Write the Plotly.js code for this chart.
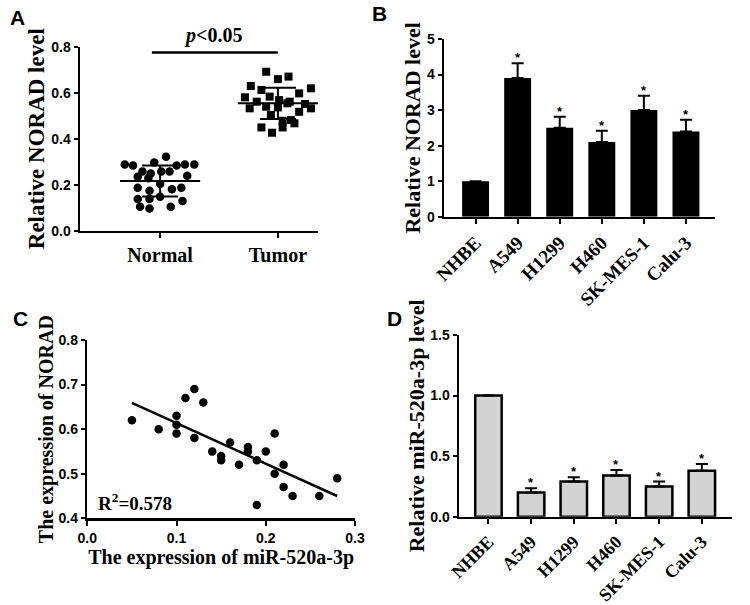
<!DOCTYPE html>
<html>
<head>
<meta charset="utf-8">
<script src="https://cdn.plot.ly/plotly-3.0.1.min.js"></script>
<style>html,body{margin:0;padding:0;background:#fff;}#chart{width:750px;height:605px;}</style>
</head>
<body>
<div id="chart"></div>
<script>
// ---------- Panel A data ----------
const groups = ['Normal', 'Tumor'];
const normalVals = [0.322,0.288,0.283,0.297,0.283,0.288,0.288,0.235,0.257,0.249,0.257,0.257,0.239,0.228,0.203,0.187,0.174,0.180,0.187,0.138,0.138,0.148,0.129,0.104,0.097,0.104];
const normalJitter = [0.05,-0.30,-0.23,-0.05,0.14,0.21,0.29,-0.19,-0.15,-0.08,0.01,0.08,0.23,-0.10,0.00,-0.19,-0.09,0.10,0.18,-0.19,-0.09,0.00,0.19,-0.17,-0.09,0.09];
const tumorVals = [0.691,0.659,0.670,0.629,0.612,0.619,0.580,0.561,0.583,0.568,0.561,0.597,0.532,0.539,0.536,0.554,0.517,0.532,0.551,0.503,0.478,0.481,0.467,0.449,0.426,0.449];
const tumorJitter = [-0.10,0.00,0.09,-0.23,-0.14,0.28,-0.28,-0.18,-0.07,0.01,0.10,0.18,-0.24,-0.10,0.00,0.08,0.18,0.28,0.23,-0.06,0.04,0.11,0.14,-0.14,-0.05,0.04];
const groupMeans = [0.216, 0.554];
const groupSD = [0.067, 0.068];

// ---------- Panel B data ----------
const cellLines = ['NHBE', 'A549', 'H1299', 'H460', 'SK-MES-1', 'Calu-3'];
const noradLevel = [1.0, 3.9, 2.5, 2.1, 3.0, 2.4];
const noradErr = [0, 0.42, 0.31, 0.32, 0.40, 0.33];
const noradSig = ['', '*', '*', '*', '*', '*'];

// ---------- Panel C data ----------
const mirExpr = [0.05,0.08,0.10,0.10,0.10,0.11,0.12,0.12,0.13,0.14,0.15,0.15,0.16,0.17,0.18,0.18,0.19,0.19,0.20,0.21,0.21,0.22,0.22,0.23,0.26,0.28];
const noradExpr = [0.62,0.60,0.63,0.61,0.59,0.67,0.69,0.58,0.66,0.55,0.54,0.53,0.57,0.52,0.56,0.55,0.53,0.43,0.55,0.59,0.50,0.52,0.47,0.45,0.45,0.49];
const fitX = [0.05, 0.28];
const fitY = [0.659, 0.450];
const r2Label = 'R<sup>2</sup>=0.578';

// ---------- Panel D data ----------
const mirLevel = [1.0, 0.20, 0.29, 0.34, 0.25, 0.38];
const mirErr = [0, 0.035, 0.035, 0.045, 0.04, 0.055];
const mirSig = ['', '*', '*', '*', '*', '*'];

// ---------- styles ----------
const W = 750, H = 605;
const serif = 'Liberation Serif, Times New Roman, serif';
const sans = 'Liberation Sans, Arial, sans-serif';
const tickFont = {family: sans, size: 14, color: '#000', weight: 'bold'};
const catFont = {family: serif, size: 20, color: '#000', weight: 'bold'};
const rotFont = {family: serif, size: 19, color: '#000', weight: 'bold'};
const rotFontD = {family: serif, size: 18, color: '#000', weight: 'bold'};
const dx = (a, b) => [a / W, b / W];
const dy = (top, bottom) => [1 - bottom / H, 1 - top / H];
const axBase = {
  showline: true, linewidth: 2.5, linecolor: '#000', ticks: 'outside', ticklen: 5,
  tickwidth: 2, tickcolor: '#000', showgrid: false, zeroline: false, fixedrange: true
};
const meanHalf = 0.34;

const traces = [];
// Panel A scatter
traces.push({
  type: 'scatter', mode: 'markers', xaxis: 'x', yaxis: 'y',
  x: normalVals.map((v, i) => 1 + normalJitter[i]), y: normalVals,
  marker: {symbol: 'circle', size: 8.5, color: '#000'}, cliponaxis: false
});
traces.push({
  type: 'scatter', mode: 'markers', xaxis: 'x', yaxis: 'y',
  x: tumorVals.map((v, i) => 2 + tumorJitter[i]), y: tumorVals,
  marker: {symbol: 'square', size: 8, color: '#000'}, cliponaxis: false
});
// mean +- SD
traces.push({
  type: 'scatter', mode: 'markers', xaxis: 'x', yaxis: 'y',
  x: [1, 2], y: groupMeans,
  marker: {size: 1, color: 'rgba(0,0,0,0)'},
  error_y: {type: 'data', array: groupSD, symmetric: true, color: '#000', thickness: 2, width: 18},
  error_x: {type: 'constant', value: meanHalf, color: '#000', thickness: 2, width: 0}
});

// Panel B bars
traces.push({
  type: 'bar', xaxis: 'x2', yaxis: 'y2', x: cellLines, y: noradLevel, width: 0.64,
  marker: {color: '#000', line: {color: '#000', width: 0}},
  error_y: {type: 'data', array: noradErr, arrayminus: noradErr.map(() => 0), symmetric: false,
            color: '#000', thickness: 2, width: 6}
});

// Panel C scatter + fit
traces.push({
  type: 'scatter', mode: 'markers', xaxis: 'x3', yaxis: 'y3', x: mirExpr, y: noradExpr,
  marker: {symbol: 'circle', size: 8.5, color: '#000'}, cliponaxis: false
});
traces.push({
  type: 'scatter', mode: 'lines', xaxis: 'x3', yaxis: 'y3', x: fitX, y: fitY,
  line: {color: '#000', width: 2.5}
});

// Panel D bars
traces.push({
  type: 'bar', xaxis: 'x4', yaxis: 'y4', x: cellLines, y: mirLevel, width: 0.62,
  marker: {color: '#d3d3d3', line: {color: '#000', width: 2.5}},
  error_y: {type: 'data', array: mirErr, arrayminus: mirErr.map(() => 0), symmetric: false,
            color: '#000', thickness: 2, width: 6}
});

const annotations = [];
const letterFont = {family: sans, size: 21, color: '#000', weight: 'bold'};
[['A', 17, 17], ['B', 379, 13], ['C', 20, 318], ['D', 395, 318]].forEach(([t, x, y]) => {
  annotations.push({xref: 'paper', yref: 'paper', x: x / W, y: 1 - y / H, text: t, showarrow: false,
                    xanchor: 'center', yanchor: 'middle', font: letterFont});
});
annotations.push({xref: 'x', yref: 'y', x: 1.45, y: 0.775, yshift: 3, text: '<i>p</i>&lt;0.05', showarrow: false,
                  yanchor: 'bottom', font: {family: serif, size: 20, color: '#000', weight: 'bold'}});
annotations.push({xref: 'x3', yref: 'y3', x: 0.01, y: 0.437, text: r2Label, showarrow: false,
                  xanchor: 'left', yanchor: 'middle', font: {family: serif, size: 19, color: '#000', weight: 'bold'}});
cellLines.forEach((c, i) => {
  if (noradSig[i]) annotations.push({xref: 'x2', yref: 'y2', x: c, y: noradLevel[i] + noradErr[i], text: noradSig[i],
    showarrow: false, yanchor: 'bottom', yshift: -4, font: {family: sans, size: 13, color: '#000', weight: 'bold'}});
  if (mirSig[i]) annotations.push({xref: 'x4', yref: 'y4', x: c, y: mirLevel[i] + mirErr[i], text: mirSig[i],
    showarrow: false, yanchor: 'bottom', yshift: -4, font: {family: sans, size: 13, color: '#000', weight: 'bold'}});
});

const layout = {
  width: W, height: H, margin: {l: 0, r: 0, t: 0, b: 0},
  paper_bgcolor: '#fff', plot_bgcolor: 'rgba(0,0,0,0)', showlegend: false,
  xaxis: Object.assign({}, axBase, {domain: dx(80, 318), range: [0.32, 2.34], tickvals: [1, 2], ticktext: groups,
    tickfont: catFont, anchor: 'y'}),
  yaxis: Object.assign({}, axBase, {domain: dy(46.7, 230.7), range: [0, 0.8], dtick: 0.2, tickformat: '.1f',
    tickfont: tickFont, anchor: 'x', ticklen: 4,
    title: {text: 'Relative NORAD level', font: {family: serif, size: 23, color: '#000', weight: 'bold'}, standoff: 0}}),
  xaxis2: Object.assign({}, axBase, {domain: dx(444, 715), type: 'category', range: [-0.75, 5.69],
    tickangle: -45, tickfont: rotFont, anchor: 'y2'}),
  yaxis2: Object.assign({}, axBase, {domain: dy(39, 216.7), range: [0, 5], dtick: 1, tickfont: tickFont, anchor: 'x2',
    ticklen: 4,
    title: {text: 'Relative NORAD level', font: {family: serif, size: 22, color: '#000', weight: 'bold'}, standoff: 0}}),
  xaxis3: Object.assign({}, axBase, {domain: dx(87.3, 355), range: [0, 0.3], dtick: 0.1, tickformat: '.1f',
    tickfont: tickFont, anchor: 'y3',
    title: {text: 'The expression of miR-520a-3p', font: {family: serif, size: 20, color: '#000', weight: 'bold'}, standoff: 0}}),
  yaxis3: Object.assign({}, axBase, {domain: dy(340, 518.3), range: [0.4, 0.8], dtick: 0.1, tickformat: '.1f',
    tickfont: tickFont, anchor: 'x3', ticklen: 4,
    title: {text: 'The expression of NORAD', font: {family: serif, size: 20, color: '#000', weight: 'bold'}, standoff: 0}}),
  xaxis4: Object.assign({}, axBase, {domain: dx(459, 731.7), type: 'category', range: [-0.69, 5.7],
    tickangle: -45, tickfont: rotFontD, anchor: 'y4'}),
  yaxis4: Object.assign({}, axBase, {domain: dy(335, 516.7), range: [0, 1.5], dtick: 0.5, tickformat: '.1f',
    tickfont: tickFont, anchor: 'x4', ticklen: 4,
    title: {text: 'Relative miR-520a-3p level', font: {family: serif, size: 22, color: '#000', weight: 'bold'}, standoff: 0}}),
  shapes: [{type: 'line', xref: 'x', yref: 'y', x0: 0.93, x1: 2.0, y0: 0.775, y1: 0.775,
            line: {color: '#000', width: 2.5}}],
  annotations: annotations
};

Plotly.newPlot('chart', traces, layout, {staticPlot: true, displayModeBar: false});
</script>
</body>
</html>
